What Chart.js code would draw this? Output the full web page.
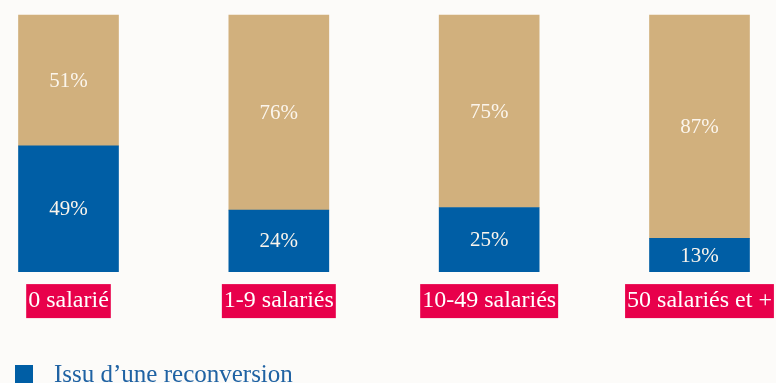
<!DOCTYPE html>
<html>
<head>
<meta charset="utf-8">
<script src="https://cdn.jsdelivr.net/npm/chart.js@4/dist/chart.umd.min.js"></script>
<style>
  html, body { margin: 0; padding: 0; background: #fcfbf9; overflow: hidden; }
  #wrap { position: relative; width: 776px; height: 383px; }
  #legend { position: absolute; left: 15px; top: 363px; font: 25px "Liberation Serif", serif; }
  .item { display: flex; align-items: center; height: 22px; margin-bottom: 14px; white-space: nowrap; }
  .box { width: 18px; height: 18px; margin-right: 21px; flex: none; }
</style>
</head>
<body>
<div id="wrap">
  <canvas id="chart" width="776" height="383"></canvas>
  <div id="legend"></div>
</div>
<script>
// Données
const categories = ['0 salarié', '1-9 salariés', '10-49 salariés', '50 salariés et +'];
const reconversion = [49, 24, 25, 13];
const autres = [51, 76, 75, 87];
const seriesNames = ['Issu d’une reconversion', 'Non issu d’une reconversion'];
const seriesColors = ['#005ea5', '#d1b07d'];
const legendColors = ['#1f62a3', '#b0925f'];

// Étiquettes de valeur au centre de chaque segment
const barLabels = {
  id: 'barLabels',
  afterDatasetsDraw(chart) {
    const ctx = chart.ctx;
    ctx.save();
    ctx.font = '21px "Liberation Serif"';
    ctx.fillStyle = '#fbf5ec';
    ctx.textAlign = 'center';
    ctx.textBaseline = 'middle';
    chart.data.datasets.forEach(function(ds, i) {
      chart.getDatasetMeta(i).data.forEach(function(bar, j) {
        const p = bar.getProps(['x', 'y', 'base'], true);
        ctx.fillText(ds.data[j] + '%', p.x, (p.y + p.base) / 2 + 1);
      });
    });
    ctx.restore();
  }
};

const config = {
  type: 'bar',
  data: {
    labels: categories,
    datasets: [
      { label: seriesNames[0], data: reconversion, backgroundColor: seriesColors[0], clip: false },
      { label: seriesNames[1], data: autres, backgroundColor: seriesColors[1], clip: false }
    ]
  },
  options: {
    responsive: false,
    animation: false,
    barThickness: 100,
    layout: { padding: { left: 68.5, right: 76.5, top: 15, bottom: 51.3 } },
    plugins: { legend: { display: false }, tooltip: { enabled: false } },
    scales: {
      x: {
        stacked: true,
        offset: false,
        grid: { display: false, drawTicks: false },
        border: { display: false },
        afterFit: function(scale) {
          scale.height = 60;
          scale.paddingLeft = 0;
          scale.paddingRight = 0;
        },
        ticks: {
          padding: 15,
          maxRotation: 0,
          autoSkip: false,
          color: '#ffffff',
          font: { family: 'Liberation Serif', size: 24 },
          showLabelBackdrop: true,
          backdropColor: '#e8004b',
          backdropPadding: { top: 2.6, bottom: 2.6, left: 2, right: 2 }
        }
      },
      y: {
        stacked: true,
        display: false,
        min: 0,
        max: 100
      }
    }
  },
  plugins: [barLabels]
};

new Chart(document.getElementById('chart'), config);

// Légende HTML
const legend = document.getElementById('legend');
seriesNames.forEach(function(name, i) {
  const item = document.createElement('div');
  item.className = 'item';
  item.style.color = legendColors[i];
  const box = document.createElement('span');
  box.className = 'box';
  box.style.background = seriesColors[i];
  item.appendChild(box);
  item.appendChild(document.createTextNode(name));
  legend.appendChild(item);
});
</script>
</body>
</html>
